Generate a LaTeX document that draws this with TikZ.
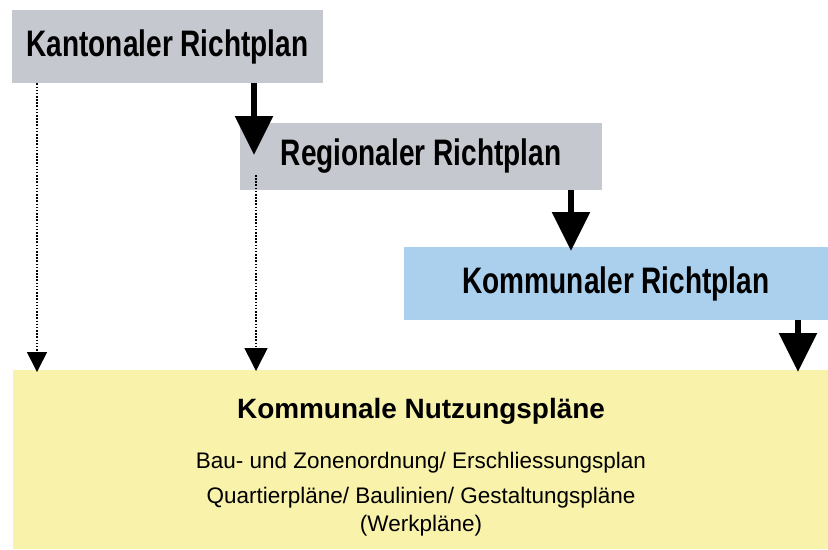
\documentclass[tikz,border=0pt]{standalone}
\usepackage{fontspec}
\setmainfont{Liberation Sans}
\newfontfamily\narrowfont[FakeStretch=0.76]{Liberation Sans}
\usetikzlibrary{arrows.meta,positioning}
\definecolor{plangray}{RGB}{198,200,208}
\definecolor{planblue}{RGB}{171,208,238}
\definecolor{planyellow}{RGB}{248,242,170}

\begin{document}
\begin{tikzpicture}[x=0.02cm, y=-0.02cm,
    planbox/.style={rectangle, inner sep=0pt, font=\narrowfont\bfseries\fontsize{21}{25}\selectfont},
    bigarrow/.style={line width=3.4pt, -{Triangle[width=0.74cm, length=0.78cm]}},
    dotarrow/.style={line width=0.9pt, dash pattern=on 0.9pt off 0.9pt, -{Triangle[width=#1, length=#1]}},
    bodytext/.style={anchor=base, font=\fontsize{12.8}{15}\selectfont}]
    \useasboundingbox (0,0) rectangle (828,549);

    % Richtplaene
    \node (kant) at (167.5,46.5) [planbox, fill=plangray, minimum width=6.22cm, minimum height=1.46cm] {Kantonaler Richtplan};
    \node (reg) at (421,156.5) [planbox, fill=plangray, minimum width=7.24cm, minimum height=1.34cm] {Regionaler Richtplan};
    \node (komm) at (616,283.5) [planbox, fill=planblue, minimum width=8.48cm, minimum height=1.46cm] {Kommunaler Richtplan};

    % Nutzungsplaene
    \node (nutz) at (420.5,459.5) [rectangle, fill=planyellow, minimum width=16.3cm, minimum height=3.58cm] {};
    \node (nutz0) at (421,418) [anchor=base, font=\bfseries\fontsize{15.9}{19}\selectfont] {Kommunale Nutzungspläne};
    \node (nutz1) at (421,468) [bodytext] {Bau- und Zonenordnung/ Erschliessungsplan};
    \node (nutz2) at (421,503) [bodytext] {Quartierpläne/ Baulinien/ Gestaltungspläne};
    \node (nutz3) at (421,531) [bodytext] {(Werkpläne)};

    % Pfeile
    \coordinate (t1) at (254,155);
    \coordinate (t2) at (571,251);
    \coordinate (t3) at (798,372);
    \draw[bigarrow] (kant.south -| t1) -- (t1);
    \draw[bigarrow] (reg.south -| t2) -- (t2);
    \draw[bigarrow] (komm.south -| t3) -- (t3);

    \coordinate (d1) at (37,372);
    \coordinate (s2) at (256,175);
    \coordinate (d2) at (256,371);
    \draw[dotarrow=0.4cm] (kant.south -| d1) -- (d1);
    \draw[dotarrow=0.46cm] (s2) -- (d2);
\end{tikzpicture}
\end{document}
